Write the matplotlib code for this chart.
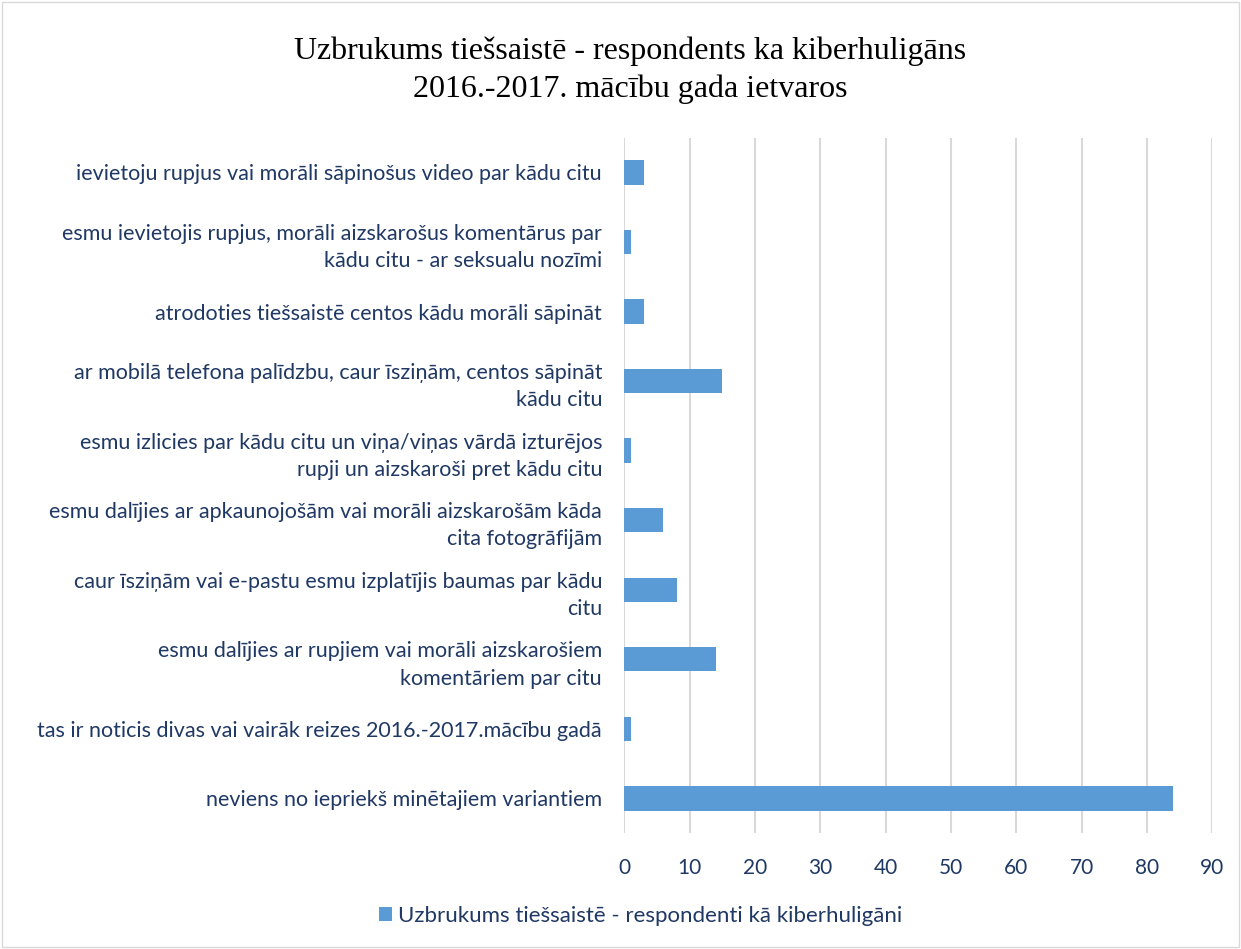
import matplotlib
matplotlib.use("Agg")
import matplotlib.pyplot as plt
from matplotlib.patches import Rectangle

# chart data (top to bottom as shown)
labels = [
    "ievietoju rupjus vai morāli sāpinošus video par kādu citu",
    "esmu ievietojis rupjus, morāli aizskarošus komentārus par\nkādu citu - ar seksualu nozīmi",
    "atrodoties tiešsaistē centos kādu morāli sāpināt",
    "ar mobilā telefona palīdzbu, caur īsziņām, centos sāpināt\nkādu citu",
    "esmu izlicies par kādu citu un viņa/viņas vārdā izturējos\nrupji un aizskaroši pret kādu citu",
    "esmu dalījies ar apkaunojošām vai morāli aizskarošām kāda\ncita fotogrāfijām",
    "caur īsziņām vai e-pastu esmu izplatījis baumas par kādu\ncitu",
    "esmu dalījies ar rupjiem vai morāli aizskarošiem\nkomentāriem par citu",
    "tas ir noticis divas vai vairāk reizes 2016.-2017.mācību gadā",
    "neviens no iepriekš minētajiem variantiem",
]
values = [3, 1, 3, 15, 1, 6, 8, 14, 1, 84]
x_ticks = [0, 10, 20, 30, 40, 50, 60, 70, 80, 90]

title = "Uzbrukums tiešsaistē - respondents ka kiberhuligāns\n2016.-2017. mācību gada ietvaros"
series_name = "Uzbrukums tiešsaistē - respondenti kā kiberhuligāni"

BAR = "#5B9BD5"
TXT = "#1F3864"
GRID = "#D9D9D9"

plt.rcParams["font.family"] = ["Lato", "DejaVu Sans"]

fig = plt.figure(figsize=(12.41, 9.49), dpi=100)
ax = fig.add_axes([0.503, 0.122, 0.474, 0.733])

pos = list(range(len(labels)))
ax.barh(pos, values, height=0.35, color=BAR, label=series_name, zorder=3)
ax.set_ylim(len(labels) - 0.5, -0.5)
ax.set_xlim(0, 90)
ax.set_xticks(x_ticks)
ax.set_yticks(pos)
ax.set_yticklabels(labels, fontsize=15.5, color=TXT, linespacing=1.45)
ax.tick_params(axis="x", labelsize=15, colors=TXT, length=0, pad=18)
ax.tick_params(axis="y", length=0, pad=16)
ax.grid(axis="x", color=GRID, linewidth=1.5, zorder=0)
for s in ax.spines.values():
    s.set_visible(False)

fig.suptitle(title, fontsize=23, family="Liberation Serif", x=0.508, y=0.962,
             linespacing=1.38)

fig.legend(loc="center", bbox_to_anchor=(0.516, 0.035), frameon=False,
           fontsize=16, labelcolor=TXT, handlelength=0.6, handleheight=0.6,
           handletextpad=0.25)

fig.patches.append(Rectangle((0.002, 0.002), 0.996, 0.996, transform=fig.transFigure,
                             fill=False, edgecolor=GRID, linewidth=1))

fig.savefig("out.png", dpi=100)
